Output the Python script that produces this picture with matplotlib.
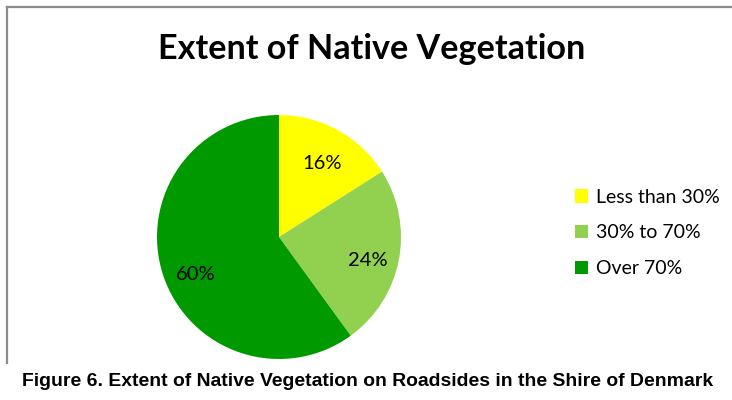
import matplotlib.pyplot as plt
from matplotlib.lines import Line2D
from matplotlib.patches import Patch

# data
categories = ["Less than 30%", "30% to 70%", "Over 70%"]
shares = [16, 24, 60]
colours = ["#FFFF00", "#92D050", "#009900"]

W, H = 732, 400
fig = plt.figure(figsize=(W / 100, H / 100), dpi=100)
fig.patch.set_facecolor("white")

# chart frame (only left and top edges visible)
fig.add_artist(Line2D([7 / W, 7 / W], [1 - 7 / H, 1 - 363 / H], color="#8c8c8c", lw=1.6))
fig.add_artist(Line2D([7 / W, 1.0], [1 - 7 / H, 1 - 7 / H], color="#8c8c8c", lw=1.6))

# pie
cx, cy, r = 279, 237, 122
ax = fig.add_axes([(cx - r) / W, (H - cy - r) / H, 2 * r / W, 2 * r / H])
wedges, texts, autotexts = ax.pie(shares, colors=colours, startangle=90, counterclock=False,
                                  autopct="%d%%", pctdistance=0.74,
                                  textprops=dict(fontsize=14.5, family="Lato"))
# nudge labels down a little, like the reference's label placement
for t, dy in zip(autotexts, [0.05, 0.05, 0.08]):
    x, y = t.get_position()
    t.set_position((x + (0.02 if t is autotexts[2] else 0), y - dy))
ax.set_xlim(-1, 1)
ax.set_ylim(-1, 1)
ax.set_aspect("equal")
ax.axis("off")

# title
fig.text(372 / W, 1 - 49 / H, "Extent of Native Vegetation", ha="center", va="center",
         fontsize=24.6, fontweight="bold", family="Lato")

# legend
handles = [Patch(facecolor=c, edgecolor="none") for c in colours]
fig.legend(handles, categories, loc="center left", bbox_to_anchor=(565 / W, 1 - 233 / H),
           frameon=False, prop=dict(family="Lato", size=14), handlelength=0.68,
           handleheight=0.68, handletextpad=0.42, labelspacing=0.97, borderpad=0)

# caption, scaled to the reference width
cap = fig.text(22 / W, 1 - 382 / H,
               "Figure 6. Extent of Native Vegetation on Roadsides in the Shire of Denmark",
               ha="left", va="center", fontsize=12, fontweight="bold", family="Liberation Sans")
fig.canvas.draw()
bb = cap.get_window_extent()
cap.set_fontsize(12 * 690 / bb.width)

fig.savefig("out.png", dpi=100)
